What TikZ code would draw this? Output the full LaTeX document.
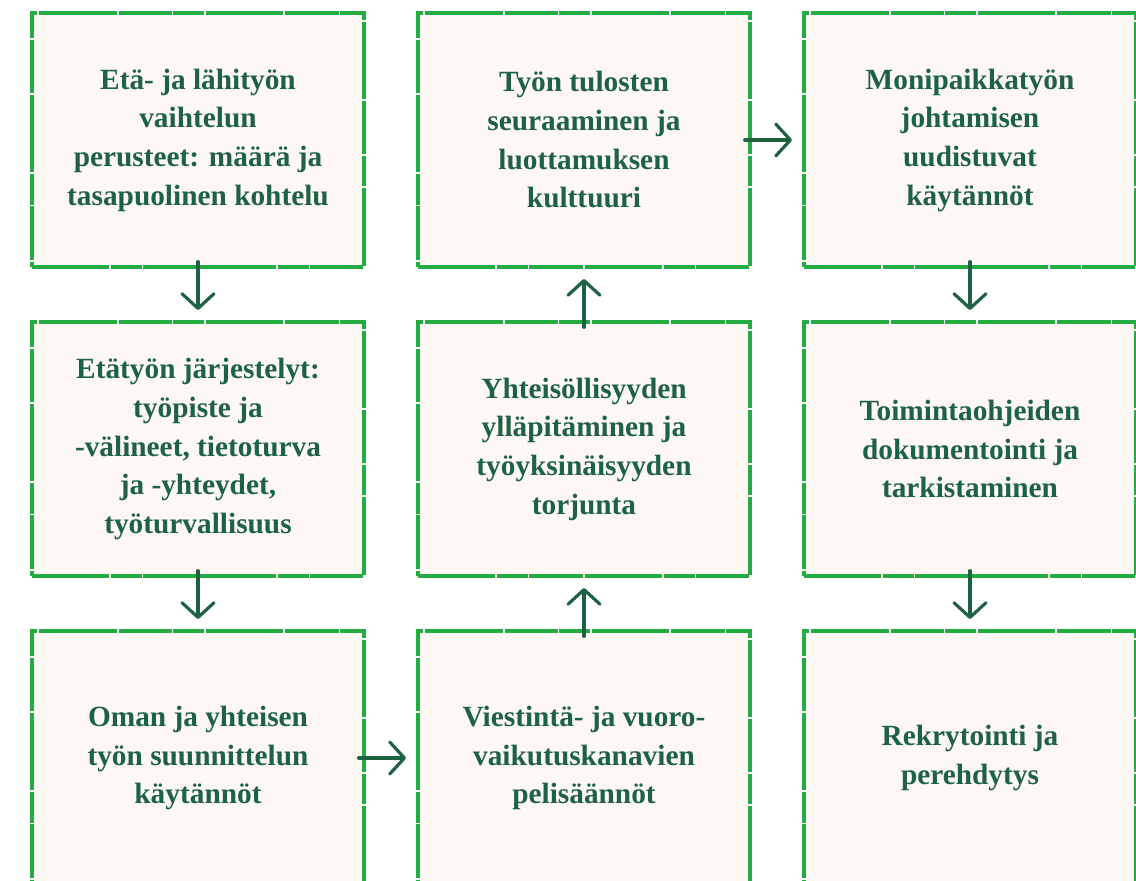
\documentclass[tikz,border=0pt]{standalone}
\usepackage{fontspec}
\setmainfont{Liberation Serif}
\usetikzlibrary{arrows.meta,positioning}

\definecolor{boxfill}{RGB}{253,248,243}
\definecolor{boxedge}{RGB}{34,172,66}
\definecolor{textgreen}{RGB}{30,98,68}

\begin{document}
\begin{tikzpicture}[
    node distance=41.25pt and 40.5pt,
    box/.style={draw=boxedge, fill=boxfill, rectangle, line width=2.4pt,
      dash pattern=on 58pt off 1.5pt on 23pt off 1pt on 40pt off 1.5pt,
      minimum width=249pt, minimum height=190.5pt, inner sep=0pt, outer sep=0pt,
      align=center, text=textgreen,
      font=\fontsize{22pt}{29pt}\selectfont\bfseries},
    flow/.style={draw=textgreen, line width=2.4pt, line cap=round,
      -{Straight Barb[length=11pt,width=24pt,round]},
      shorten <=-4pt, shorten >=9pt}
  ]
  \useasboundingbox (0,0) rectangle (852pt,-660.75pt);
  \clip (0,0) rectangle (852pt,-660.75pt);

  \node[box] at (148.5pt,-105pt) (vaihtelu) {Etä- ja lähityön\\vaihtelun\\perusteet: määrä ja\\tasapuolinen kohtelu};
  \node[box, below=of vaihtelu] (jarjestelyt) {Etätyön järjestelyt:\\työpiste ja\\-välineet, tietoturva\\ja -yhteydet,\\työturvallisuus};
  \node[box, below=of jarjestelyt] (suunnittelu) {Oman ja yhteisen\\työn suunnittelun\\käytännöt};

  \node[box, right=of vaihtelu] (tulokset) {Työn tulosten\\seuraaminen ja\\luottamuksen\\kulttuuri};
  \node[box, right=of jarjestelyt] (yhteisollisyys) {Yhteisöllisyyden\\ylläpitäminen ja\\työyksinäisyyden\\torjunta};
  \node[box, right=of suunnittelu] (viestinta) {Viestintä- ja vuoro-\\vaikutuskanavien\\pelisäännöt};

  \node[box, right=of tulokset] (johtaminen) {Monipaikkatyön\\johtamisen\\uudistuvat\\käytännöt};
  \node[box, right=of yhteisollisyys] (ohjeet) {Toimintaohjeiden\\dokumentointi ja\\tarkistaminen};
  \node[box, right=of viestinta] (rekrytointi) {Rekrytointi ja\\perehdytys};

  \draw[flow] (vaihtelu) -- (jarjestelyt);
  \draw[flow] (jarjestelyt) -- (suunnittelu);
  \draw[flow] (suunnittelu) -- (viestinta);
  \draw[flow] (viestinta) -- (yhteisollisyys);
  \draw[flow] (yhteisollisyys) -- (tulokset);
  \draw[flow] (tulokset) -- (johtaminen);
  \draw[flow] (johtaminen) -- (ohjeet);
  \draw[flow] (ohjeet) -- (rekrytointi);

\end{tikzpicture}
\end{document}
